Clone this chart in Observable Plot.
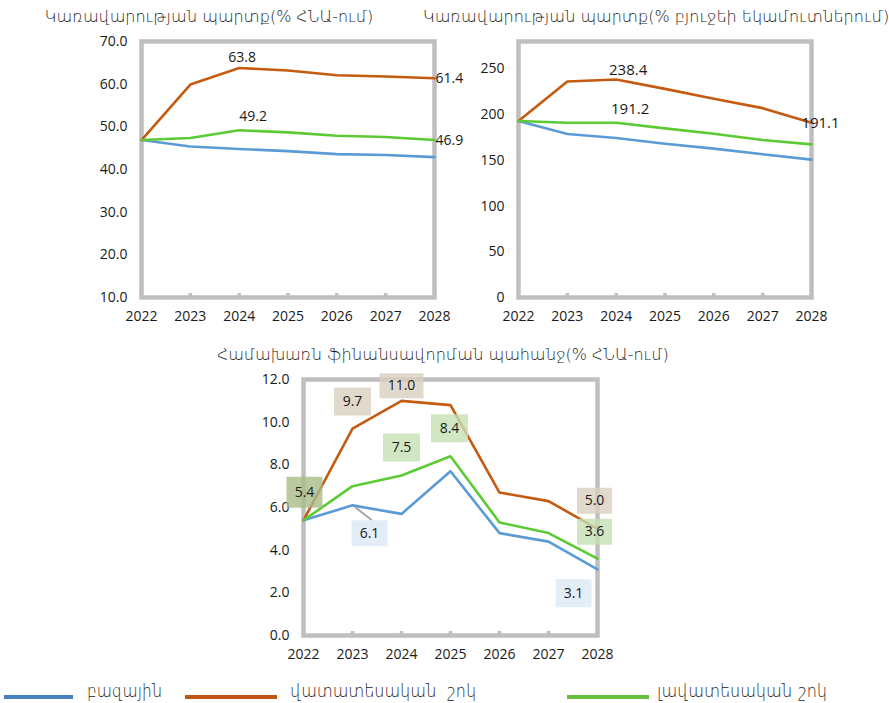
<!DOCTYPE html>
<html><head><meta charset="utf-8">
<script src="https://cdn.jsdelivr.net/npm/d3@7"></script>
<script src="https://cdn.jsdelivr.net/npm/@observablehq/plot@0.6"></script>
<style>
body{margin:0;background:#fff;width:889px;height:703px;position:relative;overflow:hidden;font-family:"Open Sans",sans-serif}
.t{position:absolute;white-space:nowrap;font-family:"DejaVu Sans",sans-serif;font-weight:300;font-size:16px;color:#1a1a1a;transform:translateX(-50%);line-height:20px}
.c{position:absolute}
.lg{position:absolute;height:4px}
.lt{position:absolute;white-space:pre;font-family:"DejaVu Sans",sans-serif;font-weight:300;font-size:18px;color:#1a1a1a;line-height:21px;transform-origin:0 0}
</style>
</head><body>
<div id="root"></div>
<script>
const years = [2022, 2023, 2024, 2025, 2026, 2027, 2028];
const seriesNames = ["բազային", "վատատեսական  շոկ", "լավատեսական շոկ"];
const titles = [
  "Կառավարության պարտք(% ՀՆԱ-ում)",
  "Կառավարության պարտք(% բյուջեի եկամուտներում)",
  "Համախառն ֆինանսավորման պահանջ(% ՀՆԱ-ում)"
];
// Government debt, % of GDP
const debtGdpBase = [46.9, 45.4, 44.8, 44.3, 43.6, 43.4, 42.9];
const debtGdpPess = [46.9, 59.9, 63.8, 63.2, 62.1, 61.8, 61.4];
const debtGdpOpt  = [46.9, 47.4, 49.2, 48.7, 47.9, 47.6, 46.9];
// Government debt, % of budget revenues
const debtRevBase = [193.0, 178.8, 174.4, 168.2, 162.8, 156.6, 150.8];
const debtRevPess = [193.0, 236.2, 238.4, 228.2, 217.3, 207.1, 191.1];
const debtRevOpt  = [193.0, 191.1, 191.2, 185.0, 179.1, 172.2, 167.5];
// Gross financing need, % of GDP
const gfnBase = [5.4, 6.1, 5.7, 7.7, 4.8, 4.4, 3.1];
const gfnPess = [5.4, 9.7, 11.0, 10.8, 6.7, 6.3, 5.0];
const gfnOpt  = [5.4, 7.0, 7.5, 8.4, 5.3, 4.8, 3.6];
// Axis ticks
const yTicksDebtGdp = [10, 20, 30, 40, 50, 60, 70];
const yTicksDebtRev = [0, 50, 100, 150, 200, 250];
const yTicksGfn = [0, 2, 4, 6, 8, 10, 12];

const colors = ["#5b9bd5", "#c55a11", "#5ccb33"];
const legendColors = ["#4a82bf", "#c05515", "#66bf3f"];
const FRAME = "#bfbfbf";

function tidy(base, pess, opt) {
  const out = [];
  [base, pess, opt].forEach((arr, k) => arr.forEach((v, i) => out.push({year: years[i], value: v, s: seriesNames[k]})));
  return out;
}
const pt = (arr, i, k) => [{year: years[i], value: arr[i], s: seriesNames[k]}];

const boxSym = (w, h) => ({draw(ctx) {
  ctx.moveTo(-w / 2, -h / 2); ctx.lineTo(w / 2, -h / 2); ctx.lineTo(w / 2, h / 2); ctx.lineTo(-w / 2, h / 2); ctx.closePath();
}});
const leader = {draw(ctx, l) { ctx.moveTo(0, 0); ctx.lineTo(0, -l); }};

function base(opts) {
  const {data, yDomain, yTicks, fmt, width, height, mL, mR, mT, mB, extra} = opts;
  return Plot.plot({
    width, height, marginLeft: mL, marginRight: mR, marginTop: mT, marginBottom: mB,
    style: {fontFamily: "'Open Sans', sans-serif", fontSize: "14px", color: "#1a1a1a", background: "transparent", overflow: "visible"},
    x: {domain: [2022, 2028], axis: null},
    y: {domain: yDomain, axis: null},
    color: {domain: seriesNames, range: colors},
    marks: [
      Plot.frame({stroke: FRAME, strokeWidth: 4.5}),
      Plot.axisX(years.slice(1, -1), {tickSize: -4, tickFormat: () => "", stroke: FRAME, strokeWidth: 3.5, label: null}),
      Plot.axisX(years, {tickSize: 0, tickPadding: 14, tickFormat: "d", fontSize: 14, label: null}),
      Plot.axisY(yTicks, {tickSize: 0, tickPadding: 14, tickFormat: fmt, fontSize: 14, label: null}),
      Plot.line(data, {x: "year", y: "value", z: "s", stroke: "s", strokeWidth: 2.6}),
      ...extra
    ]
  });
}

const root = document.getElementById("root");
function place(el, left, top, cls = "c") { el.classList.add(cls); el.style.left = left + "px"; el.style.top = top + "px"; root.appendChild(el); }
function title(text, cx, top) { const d = document.createElement("div"); d.className = "t"; d.textContent = text; d.style.left = cx + "px"; d.style.top = top + "px"; root.appendChild(d); }

const txt = (arr, i, k, dx, dy, anchor = "middle", fs = 14) =>
  Plot.text(pt(arr, i, k), {x: "year", y: "value", text: d => d.value.toFixed(1), dx, dy, textAnchor: anchor, fontSize: fs, fill: "#1a1a1a"});

// Chart 1
const c1 = base({
  data: tidy(debtGdpBase, debtGdpPess, debtGdpOpt), yDomain: [10, 70], yTicks: yTicksDebtGdp, fmt: d => d.toFixed(1),
  width: 460, height: 300, mL: 141, mR: 26, mT: 11, mB: 33,
  extra: [txt(debtGdpPess, 2, 1, 3, -10), txt(debtGdpOpt, 2, 2, 14, -14), txt(debtGdpPess, 6, 1, 1, 0, "start"), txt(debtGdpOpt, 6, 2, 1, 0, "start")]
});
place(c1, 0, 30);

// Chart 2
const c2 = base({
  data: tidy(debtRevBase, debtRevPess, debtRevOpt), yDomain: [0, 280], yTicks: yTicksDebtRev, fmt: d => String(d),
  width: 429, height: 300, mL: 58, mR: 78, mT: 11, mB: 33,
  extra: [txt(debtRevPess, 2, 1, 12, -9, "middle", 15), txt(debtRevOpt, 2, 2, 14, -14, "middle", 15), txt(debtRevPess, 6, 1, 9, 0, "middle", 15)]
});
place(c2, 460, 30);

// Chart 3
const boxes = [
  {arr: gfnOpt, i: 0, k: 2, dx: 1, dy: -28, w: 36, h: 31, fill: "#a9bc88"},
  {arr: gfnPess, i: 1, k: 1, dx: 0, dy: -27, w: 37, h: 28, fill: "#d9d0bf"},
  {arr: gfnPess, i: 2, k: 1, dx: 0, dy: -15, w: 44, h: 25, fill: "#d9d0bf"},
  {arr: gfnOpt, i: 3, k: 2, dx: -1, dy: -28, w: 37, h: 28, fill: "#c6e0b4"},
  {arr: gfnOpt, i: 2, k: 2, dx: 0, dy: -28, w: 37, h: 28, fill: "#c6e0b4"},
  {arr: gfnBase, i: 1, k: 0, dx: 17, dy: 28, w: 36, h: 26, fill: "#dce9f6"},
  {arr: gfnPess, i: 6, k: 1, dx: -3, dy: -28, w: 35, h: 26, fill: "#d9d0bf"},
  {arr: gfnOpt, i: 6, k: 2, dx: -3, dy: -27, w: 35, h: 26, fill: "#c6e0b4"},
  {arr: gfnBase, i: 6, k: 0, dx: -24, dy: 24, w: 36, h: 28, fill: "#dce9f6"}
];
const extra3 = [
  Plot.vector(pt(gfnBase, 1, 0), {x: "year", y: "value", length: 20, rotate: 128, anchor: "start", shape: leader, stroke: "#a6a6a6", strokeWidth: 2, dx: 3, dy: 2})
];
for (const b of boxes) {
  extra3.push(Plot.dot(pt(b.arr, b.i, b.k), {x: "year", y: "value", symbol: boxSym(b.w, b.h), r: 5, fill: b.fill, fillOpacity: 0.8, stroke: "none", dx: b.dx, dy: b.dy}));
}
for (const b of boxes) {
  extra3.push(txt(b.arr, b.i, b.k, b.dx, b.dy));
}
const c3 = base({
  data: tidy(gfnBase, gfnPess, gfnOpt), yDomain: [0, 12], yTicks: yTicksGfn, fmt: d => d.toFixed(1),
  width: 450, height: 300, mL: 103, mR: 53, mT: 9, mB: 35,
  extra: extra3
});
place(c3, 200, 370);

title(titles[0], 209, 7);
title(titles[1], 656, 7);
title(titles[2], 443, 345);

// Legend
const legendPos = [{lx: 4, lw: 69, tx: 87, tw: 75}, {lx: 185, lw: 92, tx: 290, tw: 186}, {lx: 567, lw: 82, tx: 657, tw: 170}];
seriesNames.forEach((name, k) => {
  const ln = document.createElement("div"); ln.className = "lg";
  ln.style.left = legendPos[k].lx + "px"; ln.style.top = "695px"; ln.style.width = legendPos[k].lw + "px"; ln.style.background = legendColors[k];
  root.appendChild(ln);
  const t = document.createElement("div"); t.className = "lt"; t.textContent = name;
  t.style.left = legendPos[k].tx + "px"; t.style.top = "680px";
  root.appendChild(t);
  const w = t.getBoundingClientRect().width;
  if (w > 0) t.style.transform = `scaleX(${legendPos[k].tw / w})`;
});
</script>
</body></html>
